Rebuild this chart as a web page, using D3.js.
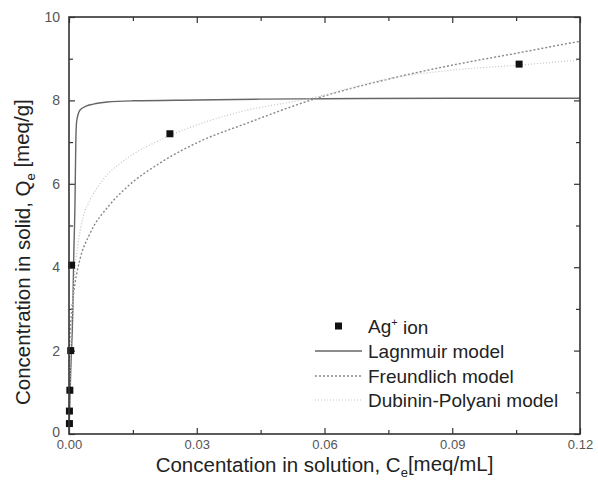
<!DOCTYPE html>
<html>
<head>
<meta charset="utf-8">
<script src="https://cdn.jsdelivr.net/npm/d3@7"></script>
<style>
  body { margin: 0; background: #fff; }
  svg { font-family: "Liberation Sans", Arial, sans-serif; }
</style>
</head>
<body>
<svg id="chart" width="598" height="504"></svg>
<script>
// measured points (Ag+ ion)
const agC = [0.0001, 0.0001, 0.0002, 0.0004, 0.0006, 0.0237, 0.1057];
const agQ = [0.25, 0.55, 1.05, 2.0, 4.05, 7.2, 8.87];

// model curves
const langC = [0, 0.0004, 0.0009, 0.0011, 0.0014, 0.0016, 0.0018, 0.0026, 0.004, 0.0057, 0.009, 0.015, 0.03, 0.045, 0.06, 0.09, 0.12];
const langQ = [0, 1.5, 3.0, 4.2, 5.5, 7.0, 7.5, 7.77, 7.86, 7.91, 7.96, 7.99, 8.01, 8.03, 8.04, 8.05, 8.05];

const freC = [0, 0.00005, 0.0002, 0.0005, 0.001, 0.0014, 0.0026, 0.0049, 0.0096, 0.0136, 0.0214, 0.0308, 0.0417, 0.0566, 0.0754, 0.0902, 0.105, 0.12];
const freQ = [0, 1.5, 2.3, 2.8, 3.3, 3.6, 4.2, 4.8, 5.5, 5.92, 6.5, 7.02, 7.45, 8.0, 8.52, 8.85, 9.13, 9.42];

const dpC = [0, 0.0003, 0.0007, 0.0012, 0.0022, 0.0033, 0.0049, 0.008, 0.0135, 0.0214, 0.0284, 0.04, 0.0566, 0.077, 0.0895, 0.106, 0.12];
const dpQ = [0, 1.5, 2.8, 3.7, 4.6, 5.2, 5.6, 6.1, 6.6, 7.05, 7.35, 7.72, 8.05, 8.56, 8.72, 8.85, 8.97];

const xMajor = [0, 0.03, 0.06, 0.09, 0.12];
const xMinor = [0.015, 0.045, 0.075, 0.105];
const yMajor = [0, 2, 4, 6, 8, 10];
const yMinor = [1, 3, 5, 7, 9];

const legendNames = ["Lagnmuir model", "Freundlich model", "Dubinin-Polyani model"];

const plotLeft = 69, plotRight = 580, plotTop = 17, plotBottom = 434;

const svg = d3.select("#chart");

const x = d3.scaleLinear().domain([0, 0.12]).range([plotLeft, plotRight]);
const y = d3.scaleLinear().domain([0, 10]).range([plotBottom, plotTop]);

const frame = "#333";

// ticks, inward on all four sides
function tickAxis(axis, values, size, tr, labels, pad) {
    const g = svg.append("g")
        .attr("transform", tr)
        .call(axis.tickValues(values).tickSizeInner(size).tickSizeOuter(0).tickPadding(pad || 9)
              .tickFormat(labels ? labels : () => ""));
    g.select(".domain").remove();
    g.selectAll("line").attr("stroke", frame).attr("stroke-width", 1.2);
    return g;
}

const xb = tickAxis(d3.axisBottom(x), xMajor, -6, `translate(0,${plotBottom})`, d3.format(".2f"), 6);
tickAxis(d3.axisBottom(x), xMinor, -4, `translate(0,${plotBottom})`);
tickAxis(d3.axisTop(x), xMajor, -6, `translate(0,${plotTop})`);
tickAxis(d3.axisTop(x), xMinor, -4, `translate(0,${plotTop})`);
const yl = tickAxis(d3.axisLeft(y), yMajor, -6, `translate(${plotLeft},0)`, d3.format("d"));
tickAxis(d3.axisLeft(y), yMinor, -4, `translate(${plotLeft},0)`);
tickAxis(d3.axisRight(y), yMajor, -6, `translate(${plotRight},0)`);
tickAxis(d3.axisRight(y), yMinor, -4, `translate(${plotRight},0)`);

xb.selectAll("text").attr("font-size", 13).attr("fill", "#555");
yl.selectAll("text").attr("font-size", 14).attr("fill", "#555")
    .attr("dy", d => d === 0 ? "0.15em" : "0.32em");

// curves
const line = d3.line()
    .x(d => x(d[0]))
    .y(d => y(d[1]))
    .curve(d3.curveMonotoneX);

const series = [
    { c: langC, q: langQ, stroke: "#666", width: 1.4, dash: null },
    { c: freC, q: freQ, stroke: "#888", width: 1.4, dash: "2,2" },
    { c: dpC, q: dpQ, stroke: "#c4c4c4", width: 1.2, dash: "1,2" }
];

const plot = svg.append("g");
plot.append("clipPath").attr("id", "clip")
    .append("rect").attr("x", plotLeft).attr("y", plotTop)
    .attr("width", plotRight - plotLeft).attr("height", plotBottom - plotTop);

plot.selectAll("path.curve")
    .data(series)
    .join("path")
    .attr("class", "curve")
    .attr("clip-path", "url(#clip)")
    .attr("d", s => line(s.c.map((c, i) => [c, s.q[i]])))
    .attr("fill", "none")
    .attr("stroke", s => s.stroke)
    .attr("stroke-width", s => s.width)
    .attr("stroke-dasharray", s => s.dash);

plot.selectAll("rect.pt")
    .data(agC.map((c, i) => [c, agQ[i]]))
    .join("rect")
    .attr("class", "pt")
    .attr("x", d => x(d[0]) - 3.5)
    .attr("y", d => y(d[1]) - 3.5)
    .attr("width", 7)
    .attr("height", 7)
    .attr("fill", "#111");

// frame
svg.append("rect")
    .attr("x", plotLeft).attr("y", plotTop)
    .attr("width", plotRight - plotLeft).attr("height", plotBottom - plotTop)
    .attr("fill", "none")
    .attr("stroke", frame)
    .attr("stroke-width", 1.6);

// legend
const lg = svg.append("g").attr("font-size", 19).attr("fill", "#222");
const rowY = [326, 351, 376, 400];

lg.append("rect").attr("x", 335).attr("y", rowY[0] - 3.5)
    .attr("width", 7).attr("height", 7).attr("fill", "#111");
const agText = lg.append("text").attr("x", 368).attr("y", rowY[0]).attr("dy", "0.35em");
agText.append("tspan").text("Ag");
agText.append("tspan").attr("font-size", 11).attr("dy", "-0.6em").text("+");
agText.append("tspan").attr("dy", "0.4em").text(" ion");

series.forEach((s, i) => {
    const yy = rowY[i + 1];
    lg.append("line")
        .attr("x1", 315).attr("x2", 362)
        .attr("y1", yy).attr("y2", yy)
        .attr("stroke", s.stroke)
        .attr("stroke-width", s.width)
        .attr("stroke-dasharray", s.dash);
    lg.append("text").attr("x", 368).attr("y", yy).attr("dy", "0.35em").text(legendNames[i]);
});

// axis titles
const xt = svg.append("text")
    .attr("x", (plotLeft + plotRight) / 2).attr("y", 472)
    .attr("text-anchor", "middle")
    .attr("font-size", 20.5)
    .attr("fill", "#222");
xt.append("tspan").text("Concentation in solution, C");
xt.append("tspan").attr("font-size", 13).attr("dy", "0.35em").text("e");
xt.append("tspan").attr("dy", "-0.25em").text("[meq/mL]");

const yt = svg.append("text")
    .attr("transform", "translate(30,405) rotate(-90)")
    .attr("text-anchor", "start")
    .attr("font-size", 20.5)
    .attr("fill", "#222");
yt.append("tspan").text("Concentration in solid, Q");
yt.append("tspan").attr("font-size", 13).attr("dy", "0.35em").text("e");
yt.append("tspan").attr("dy", "-0.25em").text("  [meq/g]");
</script>
</body>
</html>
